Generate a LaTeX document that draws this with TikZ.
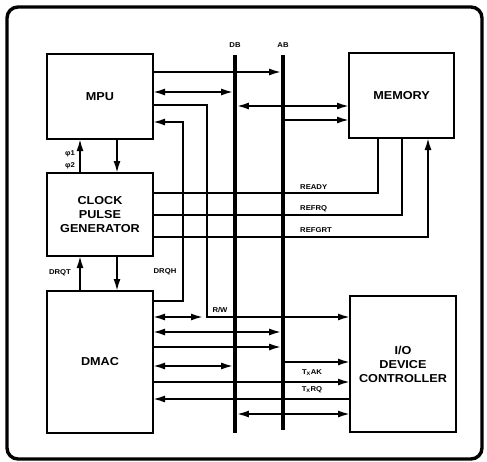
\documentclass[tikz,border=0pt]{standalone}
\usepackage{fontspec}
\setmainfont{Liberation Sans}[FakeStretch=1.1]
\usetikzlibrary{arrows.meta}
\tikzset{
blk/.style={draw,line width=1.4pt,minimum width=106pt,inner sep=0pt,outer sep=0pt,align=center,font=\bfseries\fontsize{11.5}{14}\selectfont},
sig/.style={line width=1.8pt},
bus/.style={line width=3.8pt},
lbl/.style={inner sep=0pt,font=\bfseries\fontsize{7}{8}\selectfont},
tobus/.style={shorten >=1.9pt},
frombus/.style={shorten <=1.9pt}
}
\begin{document}
\begin{tikzpicture}[x=1pt,y=-1pt,>={Latex[length=12pt,width=7pt]}]
\useasboundingbox (0,0) rectangle (487,461);
\draw[line width=3.4pt,rounded corners=11pt](7,7) rectangle (482,459);
% blocks
\node[blk,minimum height=85pt] (mpu) at (100,96.5) {MPU};
\node[blk,minimum height=83pt] (clock) at (100,214.5) {CLOCK\\PULSE\\GENERATOR};
\node[blk,minimum height=142pt] (dmac) at (100,362) {DMAC};
\node[blk,minimum width=105pt,minimum height=85pt] (mem) at (401.5,95.5) {MEMORY};
\node[blk,minimum height=136pt] (io) at (403,364) {I/O\\DEVICE\\CONTROLLER};
% buses
\coordinate (db) at (235,55);
\coordinate (ab) at (283,55);
\node[lbl] (dbl) at (235,45) {DB};
\node[lbl] (abl) at (283,45) {AB};
% MPU side
\draw[sig,->,tobus] (mpu.east|-0,72) -- (ab|-0,72);
\draw[sig,<->,tobus] (mpu.east|-0,92) -- (db|-0,92);
\draw[sig,<->,frombus] (db|-0,106) -- (mem.west|-0,106);
\draw[sig,->,frombus] (ab|-0,120) -- (mem.west|-0,120);
\coordinate (rwtop) at (207,105);
\coordinate (rw) at (207,317);
\draw[sig,->] (mpu.east|-rwtop) -- (rwtop) -- (rw) -- (io.west|-rw);
\draw[sig,<->] (dmac.east|-rw) -- ([xshift=-4pt]rw);
\node[lbl] (rwl) at (220,310) {R/W};
\coordinate (drqh) at (183,122);
\draw[sig,->] (dmac.east|-0,301) -| (drqh) -- (mpu.east|-drqh);
\node[lbl] (drqhl) at (165,272) {DRQH};
% clock
\draw[sig,->] (clock.north-|80,0) -- (mpu.south-|80,0);
\draw[sig,->] (mpu.south-|117,0) -- (clock.north-|117,0);
\node[lbl] (phia) at (70,154) {φ1};
\node[lbl] (phib) at (70,166) {φ2};
\draw[sig,->] (dmac.north-|80,0) -- (clock.south-|80,0);
\draw[sig,->] (clock.south-|117,0) -- (dmac.north-|117,0);
\node[lbl] (drqtl) at (60,273) {DRQT};
\draw[sig] (clock.east|-0,193) -| (378,0|-mem.south);
\draw[sig] (clock.east|-0,215) -| (402,0|-mem.south);
\draw[sig,->] (clock.east|-0,237) -| (428,0|-mem.south);
\node[lbl,anchor=west] (ready) at (300,187) {READY};
\node[lbl,anchor=west] (refrq) at (300,209) {REFRQ};
\node[lbl,anchor=west] (refgrt) at (300,230) {REFGRT};
% DMAC side
\draw[sig,<->,tobus] (dmac.east|-0,332) -- (ab|-0,332);
\draw[sig,->,tobus] (dmac.east|-0,347) -- (ab|-0,347);
\draw[sig,<->,tobus] (dmac.east|-0,366) -- (db|-0,366);
\draw[sig,->,frombus] (ab|-0,362) -- (io.west|-0,362);
\draw[sig,->] (dmac.east|-0,382) -- (io.west|-0,382);
\draw[sig,->] (io.west|-0,399) -- (dmac.east|-0,399);
\draw[sig,<->,frombus] (db|-0,414) -- (io.west|-0,414);
\node[lbl] (txak) at (312,373) {T\textsubscript{X}AK};
\node[lbl] (txrq) at (312,390) {T\textsubscript{X}RQ};
\draw[bus] (db) -- (db|-0,433);
\draw[bus] (ab) -- (ab|-0,430);
\end{tikzpicture}
\end{document}
